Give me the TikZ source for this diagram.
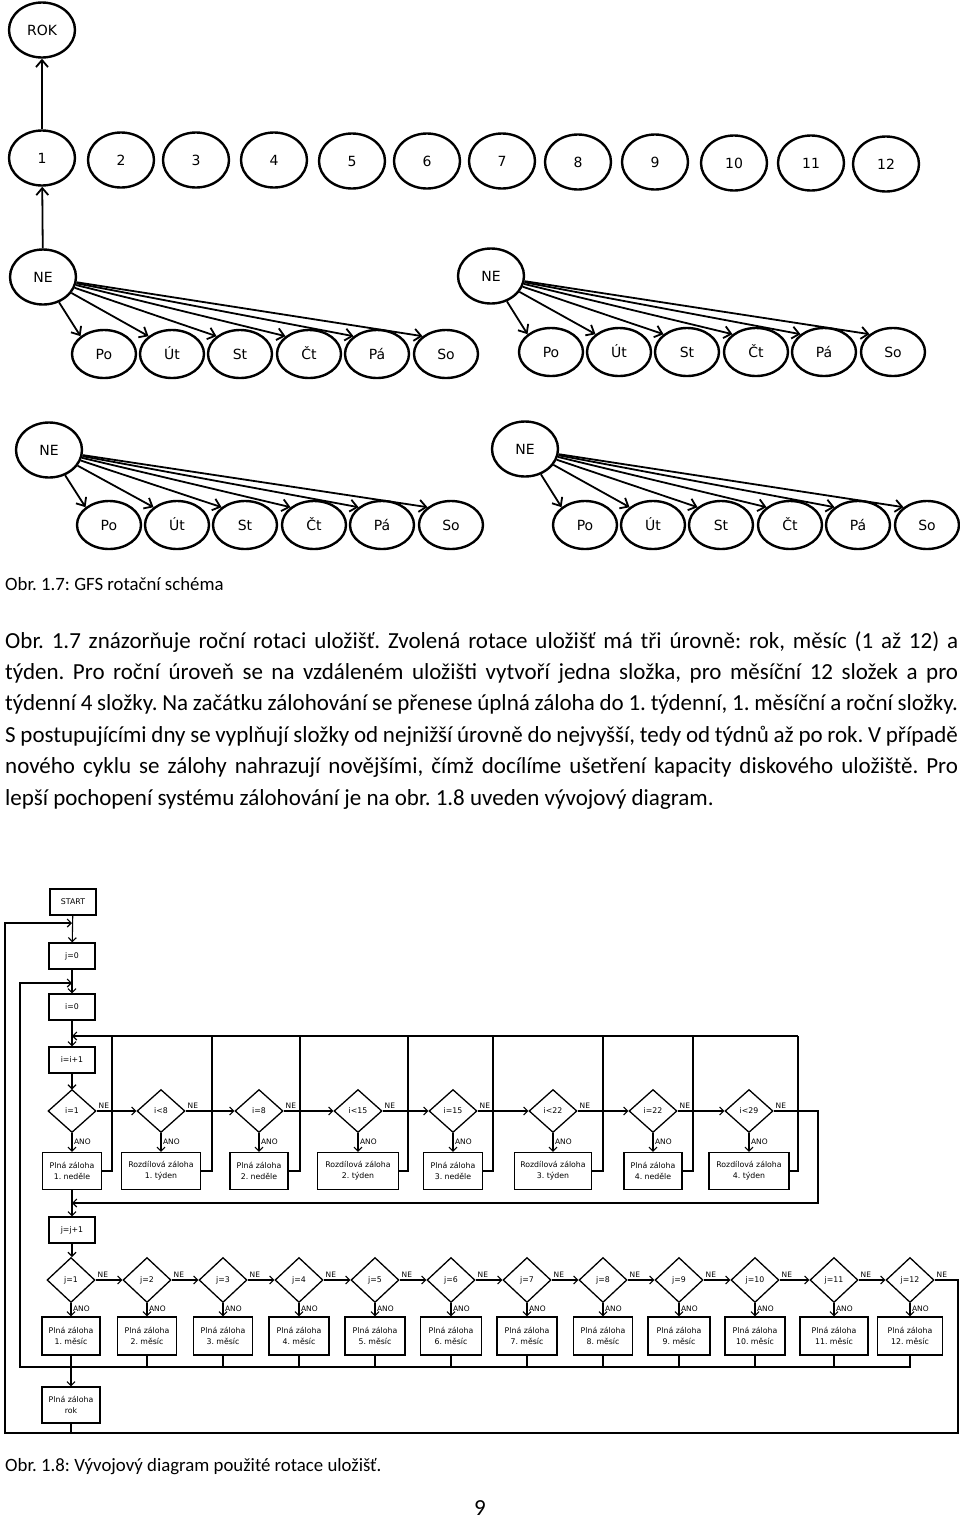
\documentclass[tikz,border=0pt]{standalone}
\usepackage{fontspec}
\setmainfont{Carlito}
\newfontfamily\diafont{DejaVu Sans}
\usetikzlibrary{shapes.geometric,arrows.meta}

\tikzset{
	oval/.style={draw, line width=2.4pt, ellipse, inner sep=0pt, minimum width=66pt, minimum height=55pt, text height=10pt, text depth=0pt, font=\diafont\fontsize{14}{14}\selectfont},
	den/.style={oval, minimum width=64pt, minimum height=48pt},
	sipka/.style={line width=1.8pt, -{Straight Barb[length=7pt,width=12pt]}},
	krok/.style={draw, line width=1.3pt, inner sep=0pt, minimum width=46pt, minimum height=26pt, align=center, font=\diafont\fontsize{7.8}{11}\selectfont},
	blok/.style={krok, minimum width=60pt, minimum height=37pt},
	podm/.style={draw, line width=1.3pt, diamond, inner sep=0pt, minimum width=48pt, minimum height=43pt, font=\diafont\fontsize{7.8}{9}\selectfont},
	cara/.style={line width=1.1pt},
	tok/.style={cara, -{Straight Barb[length=4pt,width=8pt]}},
	popis/.style={inner sep=1.5pt, font=\diafont\fontsize{7.5}{8}\selectfont},
	radek/.style={anchor=base west, inner sep=0pt, font=\fontsize{23}{26}\selectfont},
	titulek/.style={anchor=base west, inner sep=0pt, font=\fontsize{18.8}{21}\selectfont}
}

\begin{document}
\frenchspacing
\begin{tikzpicture}[x=1pt,y=-1pt]
	\useasboundingbox (0,0) rectangle (960,1519);

	% rok a mesice
	\node[oval] (rok) at (42,30) {ROK};
	\foreach \n/\x/\y in {1/42/158,2/121/160,3/196/160,4/274/160,5/352/161,6/427/161,7/502/161,8/578/162,9/655/162,10/734/163,11/811/163,12/886/164}
		\node[oval] (m\n) at (\x,\y) {\n};
	\draw[sipka] (m1) -- (rok);

	% tydny
	\node[oval] (ne1) at (43,277) {NE};
	\node[oval] (ne2) at (491,276) {NE};
	\node[oval] (ne3) at (49,450) {NE};
	\node[oval] (ne4) at (525,449) {NE};
	\draw[sipka] (ne1) -- (m1);
	\foreach \t/\dx/\y in {1/0/354,2/447/352,3/5/525,4/481/525}
		\foreach \d/\x/\txt in {po/104/Po,ut/172/Út,st/240/St,ct/309/Čt,pa/377/Pá,so/446/So} {
			\node[den] (\d\t) at ({\x+\dx},\y) {\txt};
			\draw[sipka] (ne\t) -- (\d\t.north west);
		}

	\node[titulek] (obr1) at (5,590) {Obr. 1.7: GFS rotační schéma};

	\node[radek] (r1) at (5,648) {\makebox[953pt][s]{Obr. 1.7 znázorňuje roční rotaci uložišť. Zvolená rotace uložišť má tři úrovně: rok, měsíc (1 až 12) a}};
	\node[radek] (r2) at (5,679) {\makebox[953pt][s]{týden. Pro roční úroveň se na vzdáleném uložišti vytvoří jedna složka, pro měsíční 12 složek a pro}};
	\node[radek] (r3) at (5,710) {\makebox[953pt][s]{týdenní 4 složky. Na začátku zálohování se přenese úplná záloha do 1. týdenní, 1. měsíční a roční složky.}};
	\node[radek] (r4) at (5,742) {\makebox[953pt][s]{S postupujícími dny se vyplňují složky od nejnižší úrovně do nejvyšší, tedy od týdnů až po rok. V případě}};
	\node[radek] (r5) at (5,773) {\makebox[953pt][s]{nového cyklu se zálohy nahrazují novějšími, čímž docílíme ušetření kapacity diskového uložiště. Pro}};
	\node[radek] (r6) at (5,805) {lepší pochopení systému zálohování je na obr. 1.8 uveden vývojový diagram.};

	% vyvojovy diagram
	\node[krok] (start) at (73,902) {START};
	\node[krok] (j0) at (72,956) {j=0};
	\node[krok] (i0) at (72,1007) {i=0};
	\node[krok] (ii) at (72,1060) {i=i+1};
	\node[krok] (jj) at (72,1230) {j=j+1};
	\coordinate (rs) at (72,923);
	\coordinate (ri0) at (72,983);
	\coordinate (ri) at (72,1036);
	\coordinate (rj) at (72,1203);
	\draw[tok] (start) -- (j0);
	\draw[tok] (j0) -- (i0);
	\draw[tok] (i0) -- (ii);
	\draw[tok] (ii) -- (72,1089.5);

	\foreach \k/\x/\p/\b/\w/\xv in {1/72/{i=1}/{Plná záloha\\1. neděle}/59/112,
		2/161/{i<8}/{Rozdílová záloha\\1. týden}/79/212,
		3/259/{i=8}/{Plná záloha\\2. neděle}/58/300,
		4/358/{i<15}/{Rozdílová záloha\\2. týden}/81/408,
		5/453/{i=15}/{Plná záloha\\3. neděle}/59/493,
		6/553/{i<22}/{Rozdílová záloha\\3. týden}/77/603,
		7/653/{i=22}/{Plná záloha\\4. neděle}/58/693,
		8/749/{i<29}/{Rozdílová záloha\\4. týden}/80/798} {
		\node[podm] (di\k) at (\x,1111) {\p};
		\node[blok, minimum width=\w pt] (bi\k) at (\x,1171) {\b};
		\draw[tok] (di\k) -- node[popis, pos=0.45, anchor=west] {ANO} (bi\k);
		\draw[cara] (bi\k.east) -| (\xv,1036);
	}
	\foreach \a/\b in {1/2,2/3,3/4,4/5,5/6,6/7,7/8}
		\draw[tok] (di\a) -- node[popis, pos=0, anchor=south west] {NE} (di\b);
	\draw[tok] (798,1036) -- (ri);
	\draw[tok] (di8) -- node[popis, pos=0, anchor=south west] {NE} (818,1111) |- (rj);
	\draw[tok] (bi1) -- (jj);
	\draw[tok] (jj) -- (72,1257);

	\foreach \k/\x/\w in {1/71/58,2/147/59,3/223/59,4/299/60,5/375/60,6/451/61,7/527/60,8/603/59,9/679/62,10/755/60,11/834/68,12/910/65} {
		\node[podm, minimum height=45pt] (dj\k) at (\x,1280) {j=\k};
		\node[blok, minimum width=\w pt, minimum height=38pt] (bj\k) at (\x,1336) {Plná záloha\\\k. měsíc};
		\draw[tok] (dj\k) -- node[popis, pos=0.45, anchor=west] {ANO} (bj\k);
	}
	\foreach \a/\b in {1/2,2/3,3/4,4/5,5/6,6/7,7/8,8/9,9/10,10/11,11/12}
		\draw[tok] (dj\a) -- node[popis, pos=0, anchor=south west] {NE} (dj\b);
	\foreach \k/\x in {2/147,3/223,4/299,5/375,6/451,7/527,8/603,9/679,10/755,11/834}
		\draw[cara] (bj\k) -- (\x,1367);
	\draw[tok] (bj12.south) |- (20,1367) |- (ri0);

	\node[blok, minimum width=58pt, minimum height=36pt] (brok) at (71,1405) {Plná záloha\\rok};
	\draw[tok] (bj1) -- (brok);
	\draw[cara] (brok) -- (71,1433);
	\draw[tok] (dj12) -- node[popis, pos=0, anchor=south west] {NE} (958,1280) |- (5,1433) |- (rs);

	\node[titulek] (obr2) at (5,1471) {Obr. 1.8: Vývojový diagram použité rotace uložišť.};
	\node[anchor=base, inner sep=0pt, font=\fontsize{23}{26}\selectfont] (strana) at (480,1515) {9};
\end{tikzpicture}
\end{document}
